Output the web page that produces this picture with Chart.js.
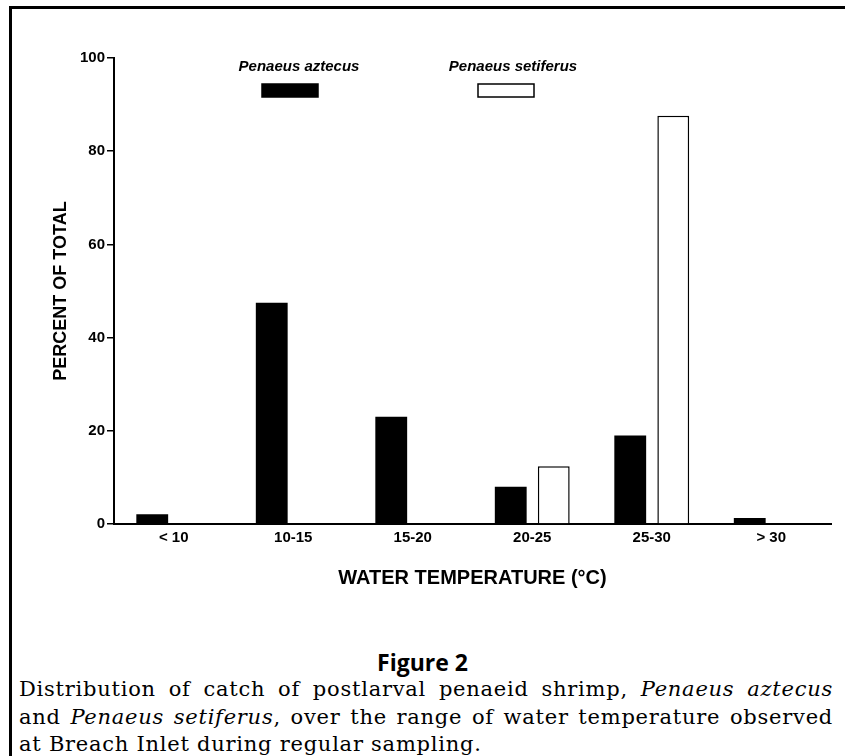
<!DOCTYPE html>
<html>
<head>
<meta charset="utf-8">
<script src="https://cdn.jsdelivr.net/npm/chart.js@4/dist/chart.umd.min.js"></script>
<style>
  body { margin: 0; background: #fff; }
  #wrap { position: relative; width: 845px; height: 756px; overflow: hidden; }
  #frame { position: absolute; left: 9px; top: 6px; right: 0; bottom: 0;
           border-top: 3px solid #000; border-left: 3px solid #000; }
  #chartBox { position: absolute; left: 0; top: 0; width: 845px; height: 620px; }
  #fig { position: absolute; left: 0; width: 845px; top: 646px; text-align: center;
         font: bold 23px "Open Sans", sans-serif; color: #000; }
  #caption { position: absolute; left: 19px; width: 814px; top: 676px;
             font: 21px "DejaVu Serif", serif; letter-spacing: 0.75px; line-height: 27.5px; color: #000; }
  #caption div { text-align: justify; text-align-last: justify; white-space: nowrap; }
  #caption div.last { text-align-last: left; }
</style>
</head>
<body>
<div id="wrap">
  <div id="frame"></div>
  <div id="chartBox"><canvas id="myChart" width="845" height="620"></canvas></div>
  <div id="fig">Figure 2</div>
  <div id="caption">
    <div>Distribution of catch of postlarval penaeid shrimp, <i>Penaeus aztecus</i></div>
    <div>and <i>Penaeus setiferus</i>, over the range of water temperature observed</div>
    <div class="last">at Breach Inlet during regular sampling.</div>
  </div>
</div>
<script>
const labels = ['< 10', '10-15', '15-20', '20-25', '25-30', '> 30'];
const aztecus = [2.1, 47.5, 23, 8, 19, 1.3];
const setiferus = [null, null, null, 12.4, 87.6, null];
const yTicks = [0, 20, 40, 60, 80, 100];

// legend drawn by hand, like the printed figure (label above a swatch)
const topLegend = {
  id: 'topLegend',
  afterDraw(chart) {
    const c = chart.ctx;
    const items = [
      { text: 'Penaeus aztecus', tx: 299, bx: 262, fill: '#000' },
      { text: 'Penaeus setiferus', tx: 513, bx: 478, fill: '#fff' }
    ];
    c.save();
    c.font = 'italic bold 15px "Liberation Sans", Arial, sans-serif';
    c.textAlign = 'center';
    c.textBaseline = 'middle';
    items.forEach(it => {
      c.fillStyle = '#000';
      c.fillText(it.text, it.tx, 67);
      c.fillStyle = it.fill;
      c.fillRect(it.bx, 84, 56, 13);
      c.lineWidth = 1.5;
      c.strokeStyle = '#000';
      c.strokeRect(it.bx, 84, 56, 13);
    });
    c.restore();
  }
};

const tickFont = { family: '"Liberation Sans", Arial, sans-serif', size: 15, weight: 'bold' };

const ctx = document.getElementById('myChart').getContext('2d');
const data = {
  labels,
  datasets: [{
    label: 'Penaeus aztecus',
    data: aztecus,
    backgroundColor: '#000',
    borderColor: '#000',
    borderWidth: 0
  }, {
    label: 'Penaeus setiferus',
    data: setiferus,
    backgroundColor: '#fff',
    borderColor: '#000',
    borderWidth: 1.5
  }]
};
const config = {
  type: 'bar',
  data: data,
  plugins: [topLegend],
  options: {
    responsive: false,
    animation: false,
    devicePixelRatio: 1,
    layout: { padding: { top: 58, right: 14, left: 0, bottom: 0 } },
    datasets: { bar: { categoryPercentage: 0.72, barPercentage: 0.74 } },
    plugins: { legend: { display: false }, tooltip: { enabled: false } },
    scales: {
      x: {
        grid: { display: false, drawTicks: false },
        border: { display: true, color: '#000', width: 2 },
        ticks: { color: '#000', padding: 5, font: tickFont },
        title: { display: true, text: 'WATER TEMPERATURE (°C)', color: '#000',
                 font: { family: '"Liberation Sans", Arial, sans-serif', size: 20, weight: 'bold' },
                 padding: { top: 0, bottom: 30 } },
        afterFit(scale) { scale.height = 96; }
      },
      y: {
        min: 0, max: 100,
        afterBuildTicks(scale) { scale.ticks = yTicks.map(v => ({ value: v })); },
        grid: { drawOnChartArea: false, drawTicks: true, tickLength: 7, color: '#000', lineWidth: 1.5 },
        border: { display: true, color: '#000', width: 2 },
        ticks: { color: '#000', padding: 2, font: tickFont },
        title: { display: true, text: 'PERCENT OF TOTAL', color: '#000',
                 font: { family: '"Liberation Sans", Arial, sans-serif', size: 18, weight: 'bold' },
                 padding: { top: 50, bottom: 0 } },
        afterFit(scale) { scale.width = 114; }
      }
    }
  }
};
const myChart = new Chart(ctx, config);
</script>
</body>
</html>
